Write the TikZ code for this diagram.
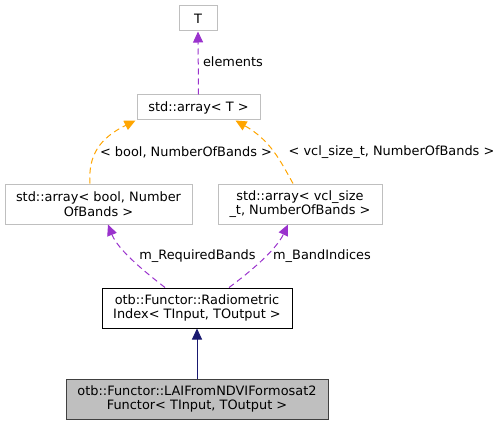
\documentclass[tikz,border=0pt]{standalone}
\usepackage{fontspec}
\setmainfont{DejaVu Sans}
\usetikzlibrary{arrows.meta}

\definecolor{usecol}{HTML}{9A32CD}
\definecolor{tmplcol}{HTML}{FFA500}
\definecolor{inhcol}{HTML}{191970}
\definecolor{boxgray}{HTML}{BFBFBF}

\tikzset{
	cls/.style={draw=boxgray, line width=1pt, inner sep=0pt, align=center, font=\fontsize{12.9}{14.5}\selectfont},
	docls/.style={cls, draw=black},
	usedge/.style={draw=usecol, dashed, dash pattern=on 6pt off 4pt, line width=1pt, -{Triangle[length=11pt,width=10pt]}},
	tmpledge/.style={draw=tmplcol, dashed, dash pattern=on 6pt off 4pt, line width=1pt, -{Triangle[length=11pt,width=10pt]}},
	inhedge/.style={draw=inhcol, line width=1pt, -{Triangle[length=11pt,width=10pt]}},
	lbl/.style={font=\fontsize{12.9}{14.5}\selectfont, inner sep=0pt}
}

\begin{document}
\begin{tikzpicture}[x=1pt, y=-1pt]
		
		\useasboundingbox (0,0) rectangle (503,425);
		
		% --- class boxes ---
		\node[cls, minimum width=38pt, minimum height=25pt] (T) at (198,18.5) {T};
		\node[cls, minimum width=123pt, minimum height=25pt] (arrT) at (198.5,107.5) {std::array< T >};
		\node[cls, minimum width=187pt, minimum height=40pt] (arrbool) at (98.5,204) {std::array< bool, Number\\OfBands >};
		\node[cls, minimum width=164pt, minimum height=40pt] (arrvcl) at (300,204) {std::array< vcl\_size\\\_t, NumberOfBands >};
		\node[docls, minimum width=190pt, minimum height=40pt] (radio) at (197,308) {otb::Functor::Radiometric\\Index< TInput, TOutput >};
		\node[docls, fill=boxgray, draw=black!75, minimum width=262pt, minimum height=40pt] (lai) at (197,399) {otb::Functor::LAIFromNDVIFormosat2\\Functor< TInput, TOutput >};
		
		% --- usage edges ---
		\draw[usedge] (arrT.north) -- (T.south);
		\node[lbl] (elemlbl) at (233,62) {elements};
		
		\draw[usedge] ([xshift=-32pt]radio.north) .. controls (145,272) and (118,250) .. ([xshift=9.5pt]arrbool.south);
		\node[lbl] (reqlbl) at (197.5,256) {m\_RequiredBands};
		\draw[usedge] ([xshift=32pt]radio.north) .. controls (250,272) and (276,250) .. ([xshift=-12pt]arrvcl.south);
		\node[lbl] (idxlbl) at (322,256) {m\_BandIndices};
		
		% --- template edges ---
		\draw[tmpledge] ([xshift=-8.5pt]arrbool.north) .. controls (88,155) and (100,138) .. ([xshift=-1pt]arrT.south west);
		\node[lbl] (boollbl) at (186,152) {< bool, NumberOfBands >};
		\draw[tmpledge] ([xshift=-7pt]arrvcl.north) .. controls (280,160) and (270,140) .. ([xshift=-25pt]arrT.south east);
		\node[lbl] (vcllbl) at (391.5,152) {< vcl\_size\_t, NumberOfBands >};
		
		% --- inheritance ---
		\draw[inhedge] (lai.north) -- (radio.south);
		
	\end{tikzpicture}
\end{document}
